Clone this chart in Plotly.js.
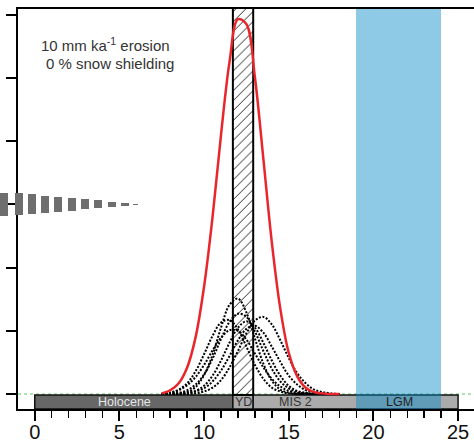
<!DOCTYPE html>
<html>
<head>
<meta charset="utf-8">
<script src="https://cdn.plot.ly/plotly-3.0.1.min.js"></script>
<style>html,body{margin:0;padding:0;background:#fff;}#chart{width:474px;height:444px;}</style>
</head>
<body>
<div id="chart"></div>
<script>
// ---- data ----
var ageGrid = [7.5, 8, 8.5, 9, 9.5, 10, 10.5, 11, 11.5, 12, 12.5, 13, 13.5, 14, 14.5, 15, 15.5, 16, 16.5, 17, 17.5, 18];
var summedProb = [0.01, 0.06, 0.17, 0.42, 0.9, 1.7, 2.8, 4.1, 5.25, 5.93, 5.85, 5.01, 3.72, 2.4, 1.35, 0.65, 0.28, 0.10, 0.03, 0.01, 0, 0];
var sample1 = [0, 0, 0.01, 0.03, 0.11, 0.30, 0.62, 1.05, 1.41, 1.51, 1.29, 0.88, 0.48, 0.21, 0.07, 0.02, 0, 0, 0, 0, 0, 0];
var sample2 = [0, 0.01, 0.02, 0.06, 0.15, 0.31, 0.56, 0.87, 1.14, 1.27, 1.22, 0.99, 0.68, 0.40, 0.20, 0.09, 0.03, 0.01, 0, 0, 0, 0];
var sample3 = [0.01, 0.02, 0.07, 0.17, 0.36, 0.63, 0.92, 1.13, 1.17, 1.02, 0.75, 0.46, 0.24, 0.10, 0.04, 0.01, 0, 0, 0, 0, 0, 0];
var sample4 = [0, 0, 0, 0.02, 0.05, 0.13, 0.29, 0.53, 0.81, 1.05, 1.15, 1.05, 0.81, 0.53, 0.29, 0.13, 0.05, 0.02, 0, 0, 0, 0];
var sample5 = [0, 0, 0, 0, 0.01, 0.04, 0.10, 0.22, 0.42, 0.68, 0.96, 1.16, 1.22, 1.10, 0.85, 0.57, 0.33, 0.17, 0.07, 0.03, 0.01, 0];
var sample6 = [0, 0, 0, 0.01, 0.04, 0.09, 0.20, 0.37, 0.60, 0.85, 1.03, 1.08, 0.97, 0.75, 0.51, 0.29, 0.15, 0.06, 0.02, 0.01, 0, 0];
var sample7 = [0.01, 0.02, 0.06, 0.14, 0.27, 0.46, 0.69, 0.89, 1.01, 1.00, 0.86, 0.64, 0.42, 0.24, 0.12, 0.05, 0.02, 0.01, 0, 0, 0, 0];
var samples = [sample1, sample2, sample3, sample4, sample5, sample6, sample7];

var periodNames = ['Holocene', 'YD', 'MIS 2'];
var periodStart = [0, 11.7, 12.9];
var periodEnd = [11.7, 12.9, 25];
var periodLabels = ['Holocene', 'YD', 'MIS 2', 'LGM'];
var periodLabelX = [5.3, 12.3, 15.4, 21.55];
var ydBand = [11.7, 12.9];
var lgmBand = [19, 24];

var wedgeX = [-1.80, -0.94, -0.18, 0.59, 1.39, 2.19, 2.95, 3.72, 4.55, 5.32, 5.94];
var wedgeH = [0.37, 0.35, 0.32, 0.28, 0.24, 0.21, 0.16, 0.13, 0.085, 0.055, 0.025];
var wedgeCenter = 3;

// ---- styles ----
var periodColors = ['#676767', '#ababab', '#ababab'];
var labelColors = ['#e6e6e6', '#333333', '#333333', '#222222'];
var wedgeW = [0.45, 0.45, 0.45, 0.45, 0.45, 0.45, 0.45, 0.45, 0.45, 0.45, 0.3];
var yMin = -0.237, yMax = 6.09, barTop = -0.016;
var labelFont = 'Liberation Sans, Arial, sans-serif';
var leftPx = 18, W = 474;

var traces = [];
// timeline bar
traces.push({
  type: 'bar', x: periodStart.map(function(s, i){ return (s + periodEnd[i]) / 2; }),
  width: periodStart.map(function(s, i){ return periodEnd[i] - s; }),
  base: periodStart.map(function(){ return yMin; }),
  y: periodStart.map(function(){ return barTop - yMin; }),
  marker: {color: periodColors, line: {color: '#111', width: 1.5}},
  hoverinfo: 'skip', name: periodNames.join(' / ')
});
// LGM band
traces.push({
  type: 'bar', x: [(lgmBand[0] + lgmBand[1]) / 2], width: [lgmBand[1] - lgmBand[0]],
  base: [yMin], y: [yMax - yMin + 0.2],
  marker: {color: 'rgba(4,138,200,0.45)', line: {width: 0}}, hoverinfo: 'skip'
});
// YD hatched band
traces.push({
  type: 'bar', x: [(ydBand[0] + ydBand[1]) / 2], width: [ydBand[1] - ydBand[0]],
  base: [barTop], y: [yMax - barTop + 0.2],
  marker: {color: 'rgba(255,255,255,0)', line: {color: '#000', width: 2},
    pattern: {shape: '/', size: 7, solidity: 0.12, fgcolor: '#000', bgcolor: 'rgba(255,255,255,0)', fillmode: 'replace'}},
  hoverinfo: 'skip'
});
// wedge (left)
traces.push({
  type: 'bar', xaxis: 'x2', yaxis: 'y', x: wedgeX, width: wedgeW,
  base: wedgeH.map(function(h){ return wedgeCenter - h / 2; }), y: wedgeH,
  marker: {color: '#6e6e6e', line: {width: 0}}, hoverinfo: 'skip'
});
// dotted sample curves
samples.forEach(function(s){
  traces.push({
    type: 'scatter', mode: 'lines', x: ageGrid, y: s,
    line: {color: '#000', width: 2, dash: '2px,1.6px', shape: 'spline', smoothing: 1},
    hoverinfo: 'skip'
  });
});
// summed red curve
traces.push({
  type: 'scatter', mode: 'lines', x: ageGrid, y: summedProb,
  line: {color: '#e8262b', width: 2.5, shape: 'spline', smoothing: 1}, hoverinfo: 'skip'
});

var annotations = periodLabels.map(function(t, i){
  return {x: periodLabelX[i], y: (yMin + barTop) / 2, xref: 'x', yref: 'y', text: t, showarrow: false,
    font: {family: labelFont, size: 12.5, color: labelColors[i]}, xanchor: 'center', yanchor: 'middle'};
});
annotations.push({x: 105.5 / W, y: 0.91, xref: 'paper', yref: 'paper', showarrow: false,
  text: '10 mm ka<sup>-1</sup> erosion', font: {family: labelFont, size: 15, color: '#333'}, xanchor: 'center', yanchor: 'middle'});
annotations.push({x: 110 / W, y: 0.8625, xref: 'paper', yref: 'paper', showarrow: false,
  text: '0 % snow shielding', font: {family: labelFont, size: 15, color: '#333'}, xanchor: 'center', yanchor: 'middle'});

var xr = [-0.99, 25.94];
var pxPerUnit = (W - leftPx) / (xr[1] - xr[0]);

var layout = {
  width: 474, height: 444,
  margin: {l: 0, r: 0, t: 9, b: 35, pad: 0},
  paper_bgcolor: '#fff', plot_bgcolor: 'rgba(0,0,0,0)',
  showlegend: false, barmode: 'overlay', bargap: 0,
  xaxis: {
    domain: [leftPx / W, 1],
    range: xr, tickmode: 'linear', tick0: 0, dtick: 5,
    ticks: 'outside', ticklen: 10, tickwidth: 2, tickcolor: '#000',
    showline: true, linewidth: 2, linecolor: '#000', mirror: true,
    showgrid: false, zeroline: false, ticklabelstandoff: -6,
    tickfont: {family: labelFont, size: 20, color: '#111'},
    minor: {tick0: 0, dtick: 1, ticks: 'outside', ticklen: 7, tickwidth: 1.5, tickcolor: '#000', showgrid: false}
  },
  xaxis2: {domain: [0, 1], anchor: 'y', range: [xr[0] - leftPx / pxPerUnit, xr[1]], visible: false, fixedrange: true},
  yaxis: {
    range: [yMin, yMax], tickmode: 'linear', tick0: 0, dtick: 1, anchor: 'x',
    ticks: 'outside', ticklen: 10, tickwidth: 2, tickcolor: '#000',
    showticklabels: false, showline: true, linewidth: 2, linecolor: '#000',
    showgrid: false, zeroline: false
  },
  shapes: [{type: 'line', xref: 'x', yref: 'y', x0: xr[0], x1: xr[1], y0: 0, y1: 0, layer: 'below',
    line: {color: '#5cc85c', width: 1, dash: 'dot'}}],
  annotations: annotations
};

Plotly.newPlot('chart', traces, layout, {displayModeBar: false, staticPlot: true});
</script>
</body>
</html>
